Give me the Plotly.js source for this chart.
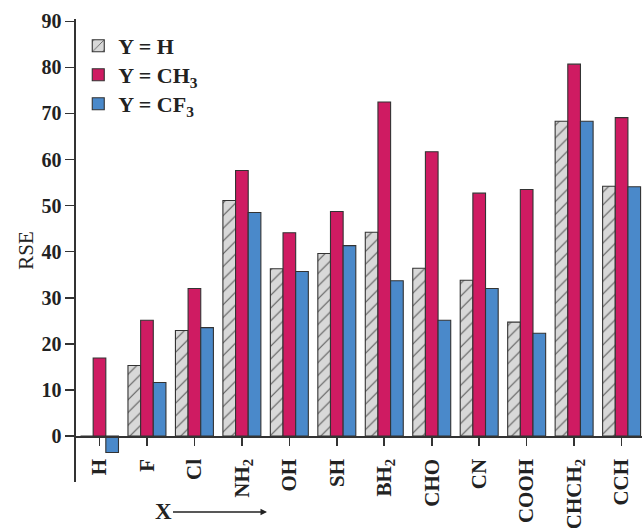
<!DOCTYPE html>
<html>
<head>
<meta charset="utf-8">
<script src="https://cdn.plot.ly/plotly-3.0.1.min.js"></script>
<style>html,body{margin:0;padding:0;background:#fff;}#chart{width:642px;height:528px;}</style>
</head>
<body>
<div id="chart"></div>
<script>
// Substituent X (tick labels)
var categories = ["H","F","Cl","NH2","OH","SH","BH2","CHO","CN","COOH","CHCH2","CCH"];
var tickLabels = ["H","F","Cl","NH<sub>2</sub>","OH","SH","BH<sub>2</sub>","CHO","CN","COOH","CHCH<sub>2</sub>","CCH"];
var seriesNames = ["Y = H","Y = CH<sub>3</sub>","Y = CF<sub>3</sub>"];
// RSE values
var rseYH   = [0, 15.3, 22.9, 51.1, 36.3, 39.6, 44.2, 36.4, 33.8, 24.7, 68.3, 54.2];
var rseYCH3 = [16.9, 25.1, 32.0, 57.6, 44.1, 48.7, 72.5, 61.7, 52.7, 53.5, 80.7, 69.1];
var rseYCF3 = [-3.6, 11.6, 23.5, 48.5, 35.7, 41.3, 33.7, 25.1, 32.0, 22.3, 68.3, 54.1];
var yTicks = [0,10,20,30,40,50,60,70,80,90];

var serif = "Liberation Serif, Times New Roman, serif";
var outline = {color: "#333333", width: 1.1};

var traces = [
  {type: "bar", name: seriesNames[0], x: categories, y: rseYH, legend: "legend",
   marker: {color: "#d8d8d8", line: outline,
            pattern: {shape: "/", size: 9, solidity: 0.12, fgcolor: "#5a5a5a", bgcolor: "#d8d8d8"}}},
  {type: "bar", name: seriesNames[1], x: categories, y: rseYCH3, legend: "legend2",
   marker: {color: "#cf1b62", line: outline}},
  {type: "bar", name: seriesNames[2], x: categories, y: rseYCF3, legend: "legend3",
   marker: {color: "#4a89ca", line: outline}}
];

function legendAt(py) {
  return {x: 0.004, y: (482 - py) / 463, xanchor: "left", yanchor: "middle",
          bgcolor: "rgba(0,0,0,0)",
          font: {family: serif, size: 22, weight: "bold", color: "#222"}};
}

var yMin = -10, yMax = 90.5;
var layout = {
  width: 642, height: 528,
  margin: {l: 76, r: 0, t: 19, b: 46, pad: 0},
  paper_bgcolor: "#ffffff", plot_bgcolor: "#ffffff",
  barmode: "group", bargap: 0.2, bargroupgap: 0,
  font: {family: serif, color: "#222222"},
  showlegend: true,
  legend: legendAt(46),
  legend2: legendAt(75),
  legend3: legendAt(104),
  xaxis: {
    type: "category", range: [-0.495, 11.43],
    anchor: "free", position: (0 - yMin) / (yMax - yMin),
    showline: true, linecolor: "#333", linewidth: 1.6,
    ticks: "outside", ticklen: 8, tickwidth: 1.6, tickcolor: "#333",
    tickvals: categories, ticktext: tickLabels, tickangle: -90, ticklabelstandoff: 5,
    tickfont: {family: serif, size: 21, weight: "bold", color: "#222"},
    showgrid: false, zeroline: false, fixedrange: true
  },
  yaxis: {
    range: [yMin, yMax], domain: [0, 1],
    showline: true, linecolor: "#333", linewidth: 1.6,
    ticks: "outside", ticklen: 9, tickwidth: 1.6, tickcolor: "#333",
    tickvals: yTicks, ticktext: yTicks.map(String),
    tickfont: {family: serif, size: 20, weight: "bold", color: "#222"},
    showgrid: false, zeroline: false,
    title: {text: "RSE", standoff: 2, font: {family: serif, size: 21, color: "#222"}},
    fixedrange: true
  },
  annotations: [
    {xref: "paper", yref: "paper", x: (267 - 76) / 566, y: (482 - 512) / 463,
     text: "X", showarrow: true, ax: -104, ay: 0,
     arrowhead: 2, arrowsize: 1, arrowwidth: 1.3, arrowcolor: "#222",
     font: {family: serif, size: 23, weight: "bold", color: "#222"}}
  ]
};

Plotly.newPlot("chart", traces, layout, {displayModeBar: false, staticPlot: true});
</script>
</body>
</html>
